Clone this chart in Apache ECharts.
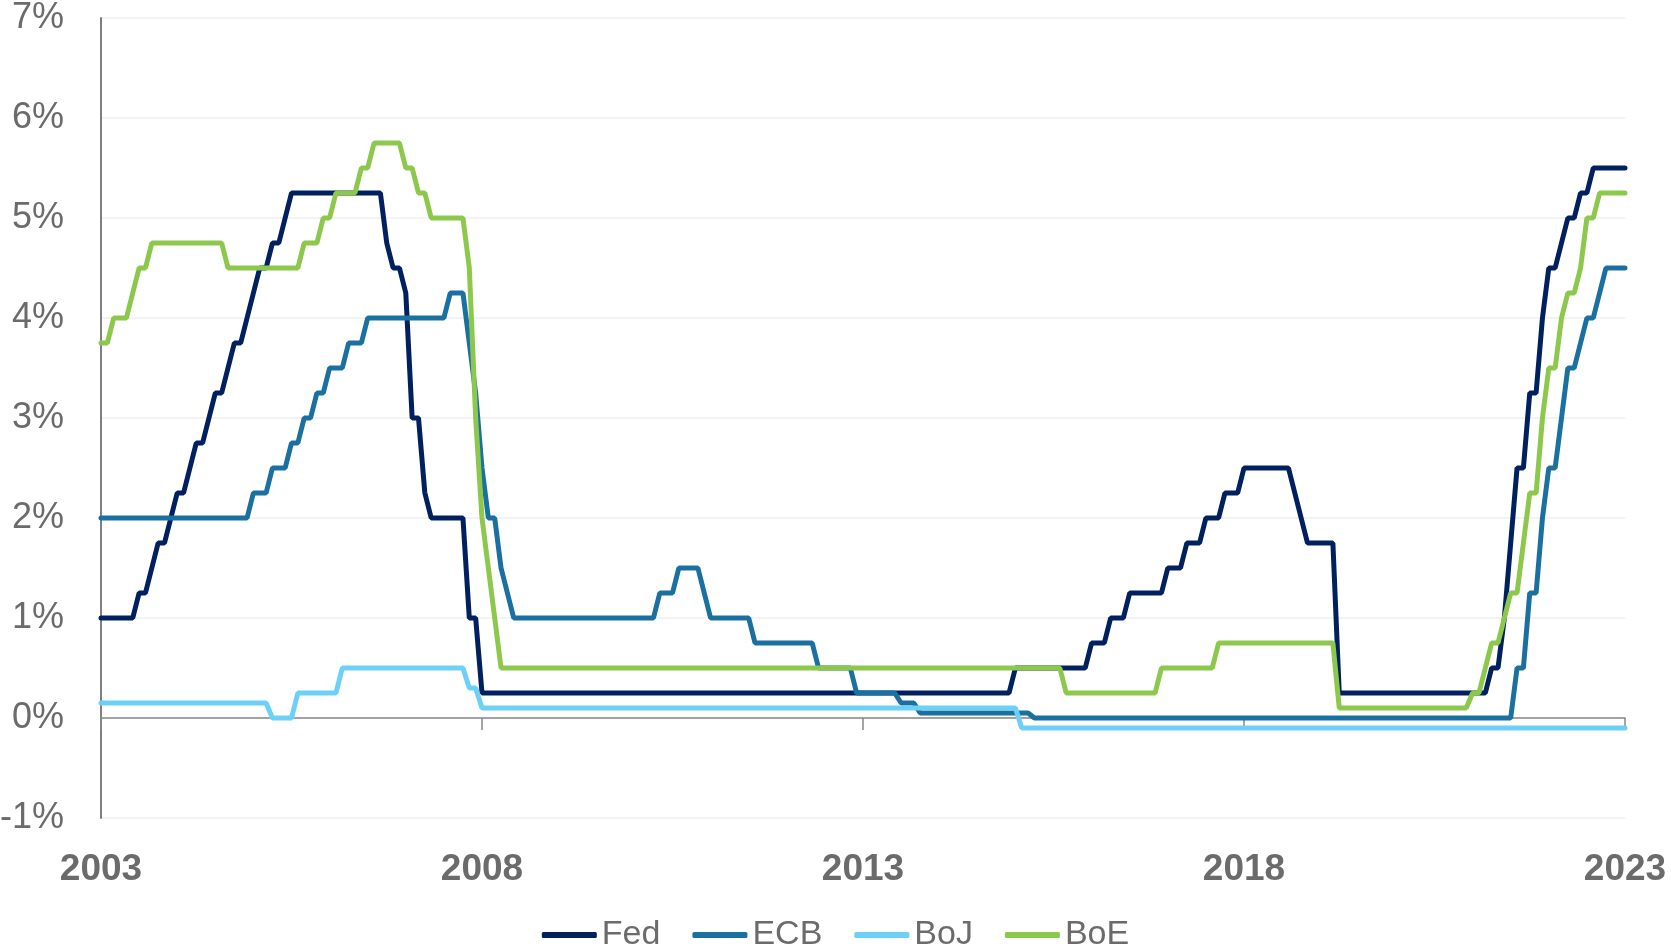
<!DOCTYPE html>
<html>
<head>
<meta charset="utf-8">
<title>Policy rates</title>
<script src="https://cdn.jsdelivr.net/npm/echarts@6/dist/echarts.min.js"></script>
<style>
  html, body { margin: 0; padding: 0; background: #fff; }
  #chart { width: 1671px; height: 951px; }
</style>
</head>
<body>
<div id="chart"></div>
<script>
// month-end policy rates (%), only the months where the line turns
var fed = [
  ['2003-12',1.00],['2004-05',1.00],['2004-06',1.25],['2004-07',1.25],['2004-08',1.50],['2004-09',1.75],
  ['2004-10',1.75],['2004-11',2.00],['2004-12',2.25],['2005-01',2.25],['2005-02',2.50],['2005-03',2.75],
  ['2005-04',2.75],['2005-05',3.00],['2005-06',3.25],['2005-07',3.25],['2005-08',3.50],['2005-09',3.75],
  ['2005-10',3.75],['2005-11',4.00],['2005-12',4.25],['2006-01',4.50],['2006-02',4.50],['2006-03',4.75],
  ['2006-04',4.75],['2006-05',5.00],['2006-06',5.25],['2007-08',5.25],['2007-09',4.75],['2007-10',4.50],
  ['2007-11',4.50],['2007-12',4.25],['2008-01',3.00],['2008-02',3.00],['2008-03',2.25],['2008-04',2.00],
  ['2008-09',2.00],['2008-10',1.00],['2008-11',1.00],['2008-12',0.25],['2015-11',0.25],['2015-12',0.50],
  ['2016-11',0.50],['2016-12',0.75],['2017-02',0.75],['2017-03',1.00],['2017-05',1.00],['2017-06',1.25],
  ['2017-11',1.25],['2017-12',1.50],['2018-02',1.50],['2018-03',1.75],['2018-05',1.75],['2018-06',2.00],
  ['2018-08',2.00],['2018-09',2.25],['2018-11',2.25],['2018-12',2.50],['2019-07',2.50],['2019-08',2.25],
  ['2019-09',2.00],['2019-10',1.75],['2020-02',1.75],['2020-03',0.25],['2022-02',0.25],['2022-03',0.50],
  ['2022-04',0.50],['2022-05',1.00],['2022-06',1.75],['2022-07',2.50],['2022-08',2.50],['2022-09',3.25],
  ['2022-10',3.25],['2022-11',4.00],['2022-12',4.50],['2023-01',4.50],['2023-02',4.75],['2023-03',5.00],
  ['2023-04',5.00],['2023-05',5.25],['2023-06',5.25],['2023-07',5.50],['2023-12',5.50]
];
var ecb = [
  ['2003-12',2.00],['2005-11',2.00],['2005-12',2.25],['2006-02',2.25],['2006-03',2.50],['2006-05',2.50],
  ['2006-06',2.75],['2006-07',2.75],['2006-08',3.00],['2006-09',3.00],['2006-10',3.25],['2006-11',3.25],
  ['2006-12',3.50],['2007-02',3.50],['2007-03',3.75],['2007-05',3.75],['2007-06',4.00],['2008-06',4.00],
  ['2008-07',4.25],['2008-09',4.25],['2008-10',3.75],['2008-11',3.25],['2008-12',2.50],['2009-01',2.00],
  ['2009-02',2.00],['2009-03',1.50],['2009-04',1.25],['2009-05',1.00],['2011-03',1.00],['2011-04',1.25],
  ['2011-06',1.25],['2011-07',1.50],['2011-10',1.50],['2011-11',1.25],['2011-12',1.00],['2012-06',1.00],
  ['2012-07',0.75],['2013-04',0.75],['2013-05',0.50],['2013-10',0.50],['2013-11',0.25],['2014-05',0.25],
  ['2014-06',0.15],['2014-08',0.15],['2014-09',0.05],['2016-02',0.05],['2016-03',0.00],['2022-06',0.00],
  ['2022-07',0.50],['2022-08',0.50],['2022-09',1.25],['2022-10',1.25],['2022-11',2.00],['2022-12',2.50],
  ['2023-01',2.50],['2023-02',3.00],['2023-03',3.50],['2023-04',3.50],['2023-05',3.75],['2023-06',4.00],
  ['2023-07',4.00],['2023-08',4.25],['2023-09',4.50],['2023-12',4.50]
];
var boj = [
  ['2003-12',0.15],['2006-02',0.15],['2006-03',0.00],['2006-06',0.00],['2006-07',0.25],['2007-01',0.25],
  ['2007-02',0.50],['2008-09',0.50],['2008-10',0.30],['2008-11',0.30],['2008-12',0.10],['2015-12',0.10],
  ['2016-01',-0.10],['2023-12',-0.10]
];
var boe = [
  ['2003-12',3.75],['2004-01',3.75],['2004-02',4.00],['2004-04',4.00],['2004-05',4.25],['2004-06',4.50],
  ['2004-07',4.50],['2004-08',4.75],['2005-07',4.75],['2005-08',4.50],['2006-07',4.50],['2006-08',4.75],
  ['2006-10',4.75],['2006-11',5.00],['2006-12',5.00],['2007-01',5.25],['2007-04',5.25],['2007-05',5.50],
  ['2007-06',5.50],['2007-07',5.75],['2007-11',5.75],['2007-12',5.50],['2008-01',5.50],['2008-02',5.25],
  ['2008-03',5.25],['2008-04',5.00],['2008-09',5.00],['2008-10',4.50],['2008-11',3.00],['2008-12',2.00],
  ['2009-01',1.50],['2009-02',1.00],['2009-03',0.50],['2016-07',0.50],['2016-08',0.25],['2017-10',0.25],
  ['2017-11',0.50],['2018-07',0.50],['2018-08',0.75],['2020-02',0.75],['2020-03',0.10],['2021-11',0.10],
  ['2021-12',0.25],['2022-01',0.25],['2022-02',0.50],['2022-03',0.75],['2022-04',0.75],['2022-05',1.00],
  ['2022-06',1.25],['2022-07',1.25],['2022-08',1.75],['2022-09',2.25],['2022-10',2.25],['2022-11',3.00],
  ['2022-12',3.50],['2023-01',3.50],['2023-02',4.00],['2023-03',4.25],['2023-04',4.25],['2023-05',4.50],
  ['2023-06',5.00],['2023-07',5.00],['2023-08',5.25],['2023-12',5.25]
];

var seriesNames = ['Fed', 'ECB', 'BoJ', 'BoE'];
var xTickLabels = ['2003', '2008', '2013', '2018', '2023'];
var yTicks = [-1, 0, 1, 2, 3, 4, 5, 6, 7];

var colors = ['#002060', '#1a70a0', '#6dd0f7', '#8cc84b'];
var textGrey = '#6b6b6b';
var font = "'Liberation Sans', Arial, sans-serif";

// months counted from Dec 2003, the first point on the axis
function monthIndex(s) {
  var p = s.split('-');
  return (+p[0] - 2003) * 12 + (+p[1] - 12);
}
function toPoints(arr) {
  return arr.map(function (d) { return [monthIndex(d[0]), d[1]]; });
}

var myChart = echarts.init(document.getElementById('chart'));

var option = {
  animation: false,
  color: colors,
  grid: {
    left: 101, right: 46, top: 18, bottom: 133,
    containLabel: false,
    outerBoundsMode: 'none'
  },
  legend: {
    data: seriesNames,
    bottom: -6,
    left: 'center',
    icon: 'roundRect',
    itemWidth: 55,
    itemHeight: 6,
    itemGap: 32,
    textStyle: { fontFamily: font, fontSize: 34, color: textGrey }
  },
  xAxis: {
    type: 'value',
    min: 0,
    max: 240,
    interval: 60,
    axisLine: { onZero: true, lineStyle: { color: '#888888', width: 1.5 } },
    axisTick: { show: true, length: 12, lineStyle: { color: '#888888', width: 1.5 } },
    splitLine: { show: false },
    axisLabel: {
      margin: 33,
      fontFamily: font,
      fontSize: 37,
      fontWeight: 'bold',
      color: textGrey,
      formatter: function (v) { return xTickLabels[Math.round(v / 60)]; }
    }
  },
  yAxis: {
    type: 'value',
    min: yTicks[0],
    max: yTicks[yTicks.length - 1],
    interval: 1,
    axisLine: { show: true, onZero: false, lineStyle: { color: '#7f7f7f', width: 2 } },
    axisTick: { show: false },
    splitLine: { lineStyle: { color: '#efefef', width: 1.5 } },
    axisLabel: {
      margin: 37,
      fontFamily: font,
      fontSize: 36,
      color: textGrey,
      formatter: '{value}%'
    }
  },
  series: [fed, ecb, boj, boe].map(function (arr, i) {
    return {
      name: seriesNames[i],
      type: 'line',
      data: toPoints(arr),
      showSymbol: false,
      lineStyle: { width: 5, color: colors[i], cap: 'round' }
    };
  })
};

myChart.setOption(option);
</script>
</body>
</html>
